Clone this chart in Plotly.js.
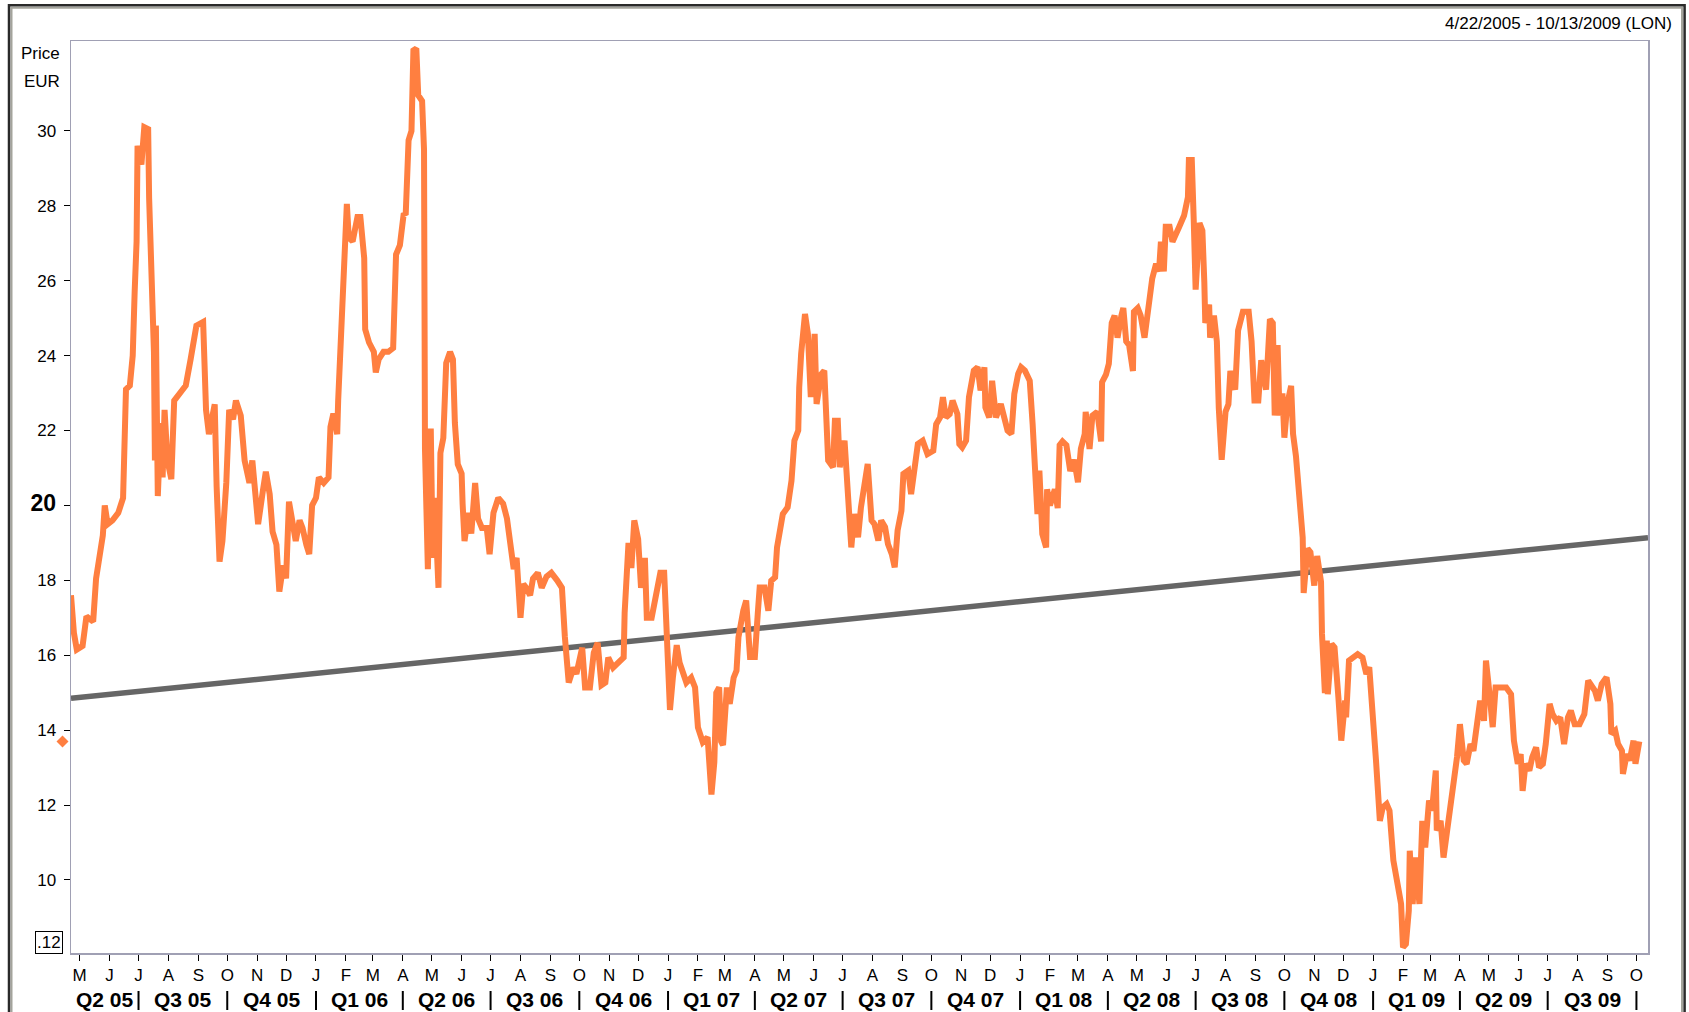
<!DOCTYPE html>
<html>
<head>
<meta charset="utf-8">
<script src="https://cdn.plot.ly/plotly-3.0.1.min.js"></script>
<style>
  html, body { margin: 0; padding: 0; background: #ffffff; }
  #chart { width: 1689px; height: 1012px; }
</style>
</head>
<body>
<div id="chart"></div>
<script>
// ---------------- DATA ----------------
const dateRangeText = "4/22/2005 - 10/13/2009 (LON)";
const rangeStart = "2005-04-22";
const rangeEnd = "2009-10-13";

const priceDates = [
"2005-04-22","2005-04-25","2005-04-28","2005-05-04","2005-05-08","2005-05-15","2005-05-18","2005-05-22","2005-05-25","2005-05-27",
"2005-05-30","2005-06-04","2005-06-10","2005-06-15","2005-06-16","2005-06-18","2005-06-22","2005-06-25","2005-06-27","2005-06-29",
"2005-06-30","2005-07-04","2005-07-07","2005-07-11","2005-07-12","2005-07-15","2005-07-17","2005-07-18","2005-07-19","2005-07-21",
"2005-07-24","2005-07-26","2005-07-28","2005-07-31","2005-08-04","2005-08-07","2005-08-14","2005-08-19","2005-08-24","2005-08-30",
"2005-09-06","2005-09-09","2005-09-12","2005-09-18","2005-09-20","2005-09-23","2005-09-26","2005-09-30","2005-10-03","2005-10-07",
"2005-10-10","2005-10-15","2005-10-19","2005-10-24","2005-10-27","2005-10-31","2005-11-02","2005-11-07","2005-11-10","2005-11-14",
"2005-11-17","2005-11-21","2005-11-24","2005-11-28","2005-12-01","2005-12-04","2005-12-08","2005-12-11","2005-12-15","2005-12-18",
"2005-12-22","2005-12-25","2005-12-28","2006-01-01","2006-01-04","2006-01-09","2006-01-14","2006-01-16","2006-01-19","2006-01-23",
"2006-01-24","2006-01-26","2006-01-28","2006-01-30","2006-02-02","2006-02-04","2006-02-08","2006-02-13","2006-02-16","2006-02-20",
"2006-02-21","2006-02-25","2006-03-02","2006-03-04","2006-03-07","2006-03-12","2006-03-17","2006-03-22","2006-03-24","2006-03-25",
"2006-03-29","2006-04-02","2006-04-04","2006-04-07","2006-04-10","2006-04-12","2006-04-15","2006-04-17","2006-04-21","2006-04-23",
"2006-04-24","2006-04-26","2006-04-27","2006-04-30","2006-05-02","2006-05-04","2006-05-08","2006-05-10","2006-05-13","2006-05-16",
"2006-05-20","2006-05-23","2006-05-25","2006-05-28","2006-06-01","2006-06-02","2006-06-04","2006-06-08","2006-06-11","2006-06-15",
"2006-06-18","2006-06-22","2006-06-27","2006-06-30","2006-07-04","2006-07-09","2006-07-14","2006-07-18","2006-07-21","2006-07-25",
"2006-07-28","2006-08-01","2006-08-04","2006-08-07","2006-08-11","2006-08-14","2006-08-19","2006-08-23","2006-08-28","2006-09-02",
"2006-09-08","2006-09-13","2006-09-16","2006-09-20","2006-09-25","2006-09-28","2006-10-04","2006-10-07","2006-10-12","2006-10-16",
"2006-10-20","2006-10-24","2006-10-28","2006-10-31","2006-11-05","2006-11-11","2006-11-16","2006-11-17","2006-11-21","2006-11-24",
"2006-11-27","2006-12-01","2006-12-04","2006-12-08","2006-12-10","2006-12-15","2006-12-20","2006-12-24","2006-12-28","2006-12-31",
"2007-01-03","2007-01-06","2007-01-10","2007-01-13","2007-01-17","2007-01-20","2007-01-25","2007-01-29","2007-02-01","2007-02-06",
"2007-02-11","2007-02-15","2007-02-18","2007-02-20","2007-02-23","2007-02-25","2007-02-27","2007-03-03","2007-03-06","2007-03-10",
"2007-03-13","2007-03-15","2007-03-20","2007-03-23","2007-03-27","2007-04-01","2007-04-04","2007-04-06","2007-04-11","2007-04-15",
"2007-04-18","2007-04-22","2007-04-24","2007-04-27","2007-04-30","2007-05-05","2007-05-09","2007-05-12","2007-05-16","2007-05-17",
"2007-05-19","2007-05-23","2007-05-26","2007-05-29","2007-06-02","2007-06-04","2007-06-09","2007-06-12","2007-06-14","2007-06-16",
"2007-06-21","2007-06-23","2007-06-26","2007-06-28","2007-07-03","2007-07-06","2007-07-10","2007-07-13","2007-07-17","2007-07-20",
"2007-07-24","2007-07-27","2007-07-31","2007-08-03","2007-08-07","2007-08-10","2007-08-14","2007-08-17","2007-08-21","2007-08-24",
"2007-08-27","2007-08-31","2007-09-02","2007-09-07","2007-09-10","2007-09-14","2007-09-17","2007-09-22","2007-09-27","2007-10-03",
"2007-10-06","2007-10-10","2007-10-13","2007-10-16","2007-10-20","2007-10-23","2007-10-28","2007-10-30","2007-11-02","2007-11-06",
"2007-11-09","2007-11-14","2007-11-18","2007-11-21","2007-11-25","2007-11-26","2007-11-30","2007-12-03","2007-12-07","2007-12-12",
"2007-12-16","2007-12-19","2007-12-23","2007-12-26","2007-12-30","2008-01-02","2008-01-06","2008-01-11","2008-01-14","2008-01-16",
"2008-01-19","2008-01-21","2008-01-24","2008-01-28","2008-01-29","2008-02-01","2008-02-06","2008-02-09","2008-02-11","2008-02-14",
"2008-02-18","2008-02-22","2008-02-26","2008-03-01","2008-03-04","2008-03-08","2008-03-09","2008-03-13","2008-03-16","2008-03-21",
"2008-03-25","2008-03-26","2008-03-30","2008-04-02","2008-04-05","2008-04-08","2008-04-11","2008-04-15","2008-04-17","2008-04-20",
"2008-04-23","2008-04-27","2008-04-28","2008-05-02","2008-05-05","2008-05-09","2008-05-12","2008-05-16","2008-05-17","2008-05-21",
"2008-05-24","2008-05-26","2008-05-29","2008-05-31","2008-06-04","2008-06-07","2008-06-11","2008-06-14","2008-06-19","2008-06-23",
"2008-06-24","2008-06-27","2008-06-29","2008-07-01","2008-07-05","2008-07-08","2008-07-10","2008-07-11","2008-07-15","2008-07-16",
"2008-07-20","2008-07-23","2008-07-25","2008-07-28","2008-08-01","2008-08-04","2008-08-06","2008-08-11","2008-08-14","2008-08-19",
"2008-08-25","2008-08-28","2008-08-31","2008-09-04","2008-09-07","2008-09-12","2008-09-16","2008-09-19","2008-09-21","2008-09-24",
"2008-09-26","2008-09-29","2008-10-01","2008-10-04","2008-10-08","2008-10-10","2008-10-13","2008-10-16","2008-10-20","2008-10-21",
"2008-10-25","2008-10-28","2008-11-01","2008-11-04","2008-11-08","2008-11-09","2008-11-12","2008-11-14","2008-11-15","2008-11-19",
"2008-11-22","2008-11-26","2008-11-29","2008-12-03","2008-12-04","2008-12-07","2008-12-11","2008-12-16","2008-12-21","2008-12-25",
"2008-12-28","2009-01-01","2009-01-04","2009-01-08","2009-01-11","2009-01-15","2009-01-18","2009-01-22","2009-01-25","2009-01-30",
"2009-02-01","2009-02-04","2009-02-07","2009-02-08","2009-02-11","2009-02-14","2009-02-18","2009-02-19","2009-02-21","2009-02-24",
"2009-02-28","2009-03-03","2009-03-07","2009-03-08","2009-03-12","2009-03-15","2009-03-19","2009-03-22","2009-03-26","2009-03-29",
"2009-04-01","2009-04-05","2009-04-08","2009-04-12","2009-04-15","2009-04-19","2009-04-22","2009-04-26","2009-04-28","2009-05-01",
"2009-05-05","2009-05-08","2009-05-13","2009-05-19","2009-05-24","2009-05-27","2009-05-31","2009-06-03","2009-06-05","2009-06-08",
"2009-06-12","2009-06-15","2009-06-19","2009-06-22","2009-06-26","2009-06-29","2009-07-03","2009-07-06","2009-07-10","2009-07-14",
"2009-07-18","2009-07-22","2009-07-25","2009-07-29","2009-08-03","2009-08-08","2009-08-12","2009-08-15","2009-08-19","2009-08-22",
"2009-08-26","2009-08-31","2009-09-04","2009-09-05","2009-09-09","2009-09-12","2009-09-16","2009-09-17","2009-09-21","2009-09-24",
"2009-09-28","2009-09-30","2009-10-04"
];

const priceValues = [
17.6,16.6,16.15,16.25,17.04,16.9,18.05,18.8,19.2,20.0,
19.5,19.6,19.8,20.2,21.65,23.1,23.2,24.0,25.7,27.05,
29.6,29.1,30.1,30.05,28.2,25.0,24.1,21.2,24.8,20.25,
22.2,20.75,22.55,21.2,20.7,22.8,23.0,23.2,23.9,24.8,
24.9,22.55,21.9,22.7,20.5,18.5,19.05,20.6,22.55,22.3,
22.8,22.4,21.2,20.6,21.2,20.2,19.5,20.4,20.9,20.3,
19.3,18.95,17.7,18.4,18.05,20.1,19.5,19.05,19.6,19.4,
18.95,18.7,20.0,20.2,20.75,20.6,20.75,22.1,22.45,21.9,
22.8,24.0,25.7,27.05,28.05,27.15,27.05,27.7,27.7,26.6,
24.7,24.35,24.1,23.55,23.9,24.1,24.1,24.2,25.5,26.7,
26.95,27.8,27.76,29.75,30.0,32.15,32.2,30.95,30.8,29.5,
21.5,18.7,18.3,22.05,18.6,20.2,17.8,21.4,21.8,23.8,
24.1,23.9,22.2,21.1,20.85,20.05,19.05,19.8,19.25,20.6,
19.65,19.4,19.4,18.7,19.8,20.2,20.05,19.65,19.0,18.3,
18.6,17.0,17.9,17.8,17.6,18.05,18.2,17.8,18.1,18.2,
18.0,17.8,16.5,15.27,15.67,15.5,16.2,15.14,15.14,16.07,
16.33,15.2,15.27,15.94,15.67,15.8,15.94,17.13,19.0,18.33,
19.6,19.1,17.8,18.6,17.0,17.0,17.66,18.2,18.2,16.5,
14.54,15.4,16.27,15.8,15.54,15.27,15.4,15.14,14.07,13.68,
13.81,12.28,13.15,15.0,15.14,13.7,13.6,15.14,14.7,15.4,
15.59,16.48,17.19,17.46,15.95,15.95,17.1,17.81,17.81,17.19,
17.99,18.08,18.88,19.33,19.77,19.95,20.66,21.73,22.0,23.15,
24.05,25.11,24.58,22.89,24.58,22.71,23.51,23.6,21.91,21.2,
21.02,22.26,22.26,21.02,21.73,20.66,18.88,19.77,19.15,19.95,
20.66,21.11,19.6,19.5,19.06,19.6,19.42,18.97,18.7,18.35,
19.33,19.86,20.84,20.93,20.3,21.02,21.64,21.73,21.37,21.46,
22.17,22.35,22.89,22.35,22.44,22.8,22.44,21.64,21.55,21.73,
22.89,23.6,23.69,23.07,23.69,22.62,22.35,23.33,22.35,22.71,
22.26,22.0,21.91,22.98,23.51,23.69,23.6,23.33,22.17,20.84,
19.77,20.93,19.24,18.88,20.43,20.0,20.43,19.93,21.61,21.71,
21.61,20.92,21.22,20.62,21.51,21.91,22.5,21.51,22.4,22.5,
21.71,23.29,23.49,23.78,24.87,25.07,24.48,25.07,25.27,24.38,
24.28,23.59,25.17,25.27,25.07,24.48,25.17,25.76,26.06,26.45,
26.25,27.04,26.25,27.44,27.44,27.04,27.24,27.44,27.74,28.23,
29.22,29.22,27.64,25.76,27.54,27.34,25.96,24.87,25.36,24.48,
25.07,24.38,22.6,21.22,22.5,22.7,23.59,23.09,24.67,25.17,
25.17,24.38,22.8,22.8,23.88,23.09,24.97,24.87,22.4,24.28,
22.4,22.99,21.81,22.7,23.19,21.91,21.32,20.13,19.14,17.66,
18.85,18.75,17.86,18.65,17.96,16.57,14.99,16.39,14.96,16.3,
16.21,14.88,13.72,14.79,14.34,15.86,15.94,16.03,15.94,15.5,
15.68,13.9,13.19,11.58,11.94,12.03,11.85,10.52,10.07,9.36,
8.2,8.29,9.18,10.78,9.36,10.6,9.36,10.16,11.58,10.87,
12.12,11.85,12.92,11.32,11.58,10.6,11.32,12.12,12.56,13.28,
14.16,13.19,13.1,13.63,13.45,14.25,14.79,14.25,15.86,15.14,
14.08,15.14,15.14,15.14,14.96,13.72,13.1,13.36,12.38,13.1,
12.92,13.28,13.54,13.01,13.1,13.63,14.7,14.43,14.25,14.34,
13.63,14.34,14.52,14.16,14.16,14.43,15.32,15.23,15.05,14.79,
15.23,15.41,14.7,13.9,13.99,13.63,13.45,12.83,13.36,13.19,
13.72,13.1,13.7
];

// regression/trend line (start and end of visible range)
const trendDates = ["2005-04-22", "2009-10-13"];
const trendValues = [14.85, 19.14];

const lastPrice = 13.7;
const minLabel = ".12";

// y axis ticks
const yTickValues = [10, 12, 14, 16, 18, 20, 22, 24, 26, 28, 30];
const yTickLabels = ["10", "12", "14", "16", "18",
  '<span style="font-size:23px;font-weight:bold">20</span>',
  "22", "24", "26", "28", "30"];

// x axis month ticks and quarter labels
const monthTickDates = [
"2005-05-01","2005-06-01","2005-07-01","2005-08-01","2005-09-01","2005-10-01","2005-11-01","2005-12-01",
"2006-01-01","2006-02-01","2006-03-01","2006-04-01","2006-05-01","2006-06-01","2006-07-01","2006-08-01","2006-09-01","2006-10-01","2006-11-01","2006-12-01",
"2007-01-01","2007-02-01","2007-03-01","2007-04-01","2007-05-01","2007-06-01","2007-07-01","2007-08-01","2007-09-01","2007-10-01","2007-11-01","2007-12-01",
"2008-01-01","2008-02-01","2008-03-01","2008-04-01","2008-05-01","2008-06-01","2008-07-01","2008-08-01","2008-09-01","2008-10-01","2008-11-01","2008-12-01",
"2009-01-01","2009-02-01","2009-03-01","2009-04-01","2009-05-01","2009-06-01","2009-07-01","2009-08-01","2009-09-01","2009-10-01"
];
const monthLetters = ["J","F","M","A","M","J","J","A","S","O","N","D"];

const quarterLabels = ["Q2 05","Q3 05","Q4 05","Q1 06","Q2 06","Q3 06","Q4 06","Q1 07","Q2 07",
  "Q3 07","Q4 07","Q1 08","Q2 08","Q3 08","Q4 08","Q1 09","Q2 09","Q3 09"];
const quarterStarts = ["2005-04-01","2005-07-01","2005-10-01","2006-01-01","2006-04-01","2006-07-01",
  "2006-10-01","2007-01-01","2007-04-01","2007-07-01","2007-10-01","2008-01-01","2008-04-01",
  "2008-07-01","2008-10-01","2009-01-01","2009-04-01","2009-07-01"];
const quarterEnds = ["2005-07-01","2005-10-01","2006-01-01","2006-04-01","2006-07-01","2006-10-01",
  "2007-01-01","2007-04-01","2007-07-01","2007-10-01","2008-01-01","2008-04-01","2008-07-01",
  "2008-10-01","2009-01-01","2009-04-01","2009-07-01","2009-10-01"];

// ---------------- STYLE ----------------
const ORANGE = "#FF7F40";
const GREY = "#666666";
const FONT = "Liberation Sans, Arial, sans-serif";
const NARROW = "Liberation Sans Narrow, Liberation Sans, Arial, sans-serif";

const W = 1689, H = 1012;
const M = { l: 71, r: 41, t: 41, b: 59 };
const PW = W - M.l - M.r, PH = H - M.t - M.b;
const px = v => (v - M.l) / PW;          // page x -> paper x
const py = v => (H - M.b - v) / PH;      // page y -> paper y

const monthText = monthTickDates.map(d => monthLetters[parseInt(d.slice(5, 7), 10) - 1]);

const tMs = d => new Date(d + "T00:00:00Z").getTime();

const annotations = [];
const shapes = [];

// quarter labels & separators
quarterLabels.forEach((q, i) => {
  const a = Math.max(tMs(quarterStarts[i]), tMs(rangeStart));
  const b = Math.min(tMs(quarterEnds[i]), tMs(rangeEnd));
  annotations.push({
    x: new Date((a + b) / 2).toISOString(), xref: "x",
    y: py(1000), yref: "paper", yanchor: "middle", xanchor: "center",
    text: "<b>" + q + "</b>", showarrow: false,
    font: { family: NARROW, size: 21, color: "#000" }
  });
  shapes.push({
    type: "line", xref: "x", yref: "paper",
    x0: quarterEnds[i], x1: quarterEnds[i], y0: py(991), y1: py(1010),
    line: { color: "#000", width: 2 }
  });
});

// top-right date range
annotations.push({
  x: px(1674), xref: "paper", xanchor: "right",
  y: py(24), yref: "paper", yanchor: "middle",
  text: dateRangeText, showarrow: false,
  font: { family: FONT, size: 17, color: "#000" }
});
// Price / EUR
annotations.push({
  x: px(62), xref: "paper", xanchor: "right", y: py(54), yref: "paper", yanchor: "middle",
  text: "Price", showarrow: false, font: { family: FONT, size: 17, color: "#000" }
});
annotations.push({
  x: px(62), xref: "paper", xanchor: "right", y: py(81), yref: "paper", yanchor: "middle",
  text: "EUR", showarrow: false, font: { family: FONT, size: 17, color: "#000" }
});
// boxed minimum label
annotations.push({
  x: px(63), xref: "paper", xanchor: "right", y: py(942.5), yref: "paper", yanchor: "middle",
  text: minLabel, showarrow: false, font: { family: FONT, size: 17, color: "#000" },
  bordercolor: "#000", borderwidth: 1, borderpad: 1, bgcolor: "#fff"
});

// last price diamond on the y axis
const cx = px(62.5), hw = 6 / PW;
const yr = [8.05, 32.4];
const hh = 6 * (yr[1] - yr[0]) / PH;
shapes.push({
  type: "path", xref: "paper", yref: "y",
  path: `M ${cx},${lastPrice + hh} L ${cx + hw},${lastPrice} L ${cx},${lastPrice - hh} L ${cx - hw},${lastPrice} Z`,
  fillcolor: ORANGE, line: { width: 0 }
});

// outer window frame
shapes.push({
  type: "rect", xref: "paper", yref: "paper",
  x0: px(11.5), x1: px(1682), y0: py(1040), y1: py(7.8),
  line: { color: "#a4a49c", width: 2 }, fillcolor: "rgba(0,0,0,0)"
});
shapes.push({
  type: "rect", xref: "paper", yref: "paper",
  x0: px(9), x1: px(1684.6), y0: py(1040), y1: py(5.3),
  line: { color: "#2a2a2a", width: 2.5 }, fillcolor: "rgba(0,0,0,0)"
});

const traces = [
  {
    x: trendDates, y: trendValues, type: "scatter", mode: "lines",
    line: { color: GREY, width: 5.5 }, hoverinfo: "skip"
  },
  {
    x: priceDates, y: priceValues, type: "scatter", mode: "lines",
    line: { color: ORANGE, width: 6, shape: "linear" }, hoverinfo: "skip"
  }
];

const layout = {
  width: W, height: H,
  margin: { l: M.l, r: M.r, t: M.t, b: M.b, pad: 0 },
  paper_bgcolor: "#ffffff", plot_bgcolor: "#ffffff",
  showlegend: false,
  font: { family: FONT, size: 17, color: "#000" },
  xaxis: {
    type: "date", range: [rangeStart, rangeEnd],
    tickmode: "array", tickvals: monthTickDates, ticktext: monthText,
    ticks: "outside", ticklen: 6, tickwidth: 1, tickcolor: "#000",
    tickfont: { family: FONT, size: 17, color: "#000" },
    showgrid: false, zeroline: false,
    showline: true, mirror: true, linecolor: "#a0a0b4", linewidth: 1.5,
    fixedrange: true
  },
  yaxis: {
    range: yr,
    tickmode: "array", tickvals: yTickValues, ticktext: yTickLabels,
    ticks: "outside", ticklen: 6, tickwidth: 1, tickcolor: "#000",
    tickfont: { family: FONT, size: 17, color: "#000" },
    ticklabelstandoff: 4,
    showgrid: false, zeroline: false,
    showline: true, mirror: true, linecolor: "#a0a0b4", linewidth: 1.5,
    fixedrange: true
  },
  annotations: annotations,
  shapes: shapes
};

Plotly.newPlot("chart", traces, layout, { staticPlot: true, displayModeBar: false });
</script>
</body>
</html>
